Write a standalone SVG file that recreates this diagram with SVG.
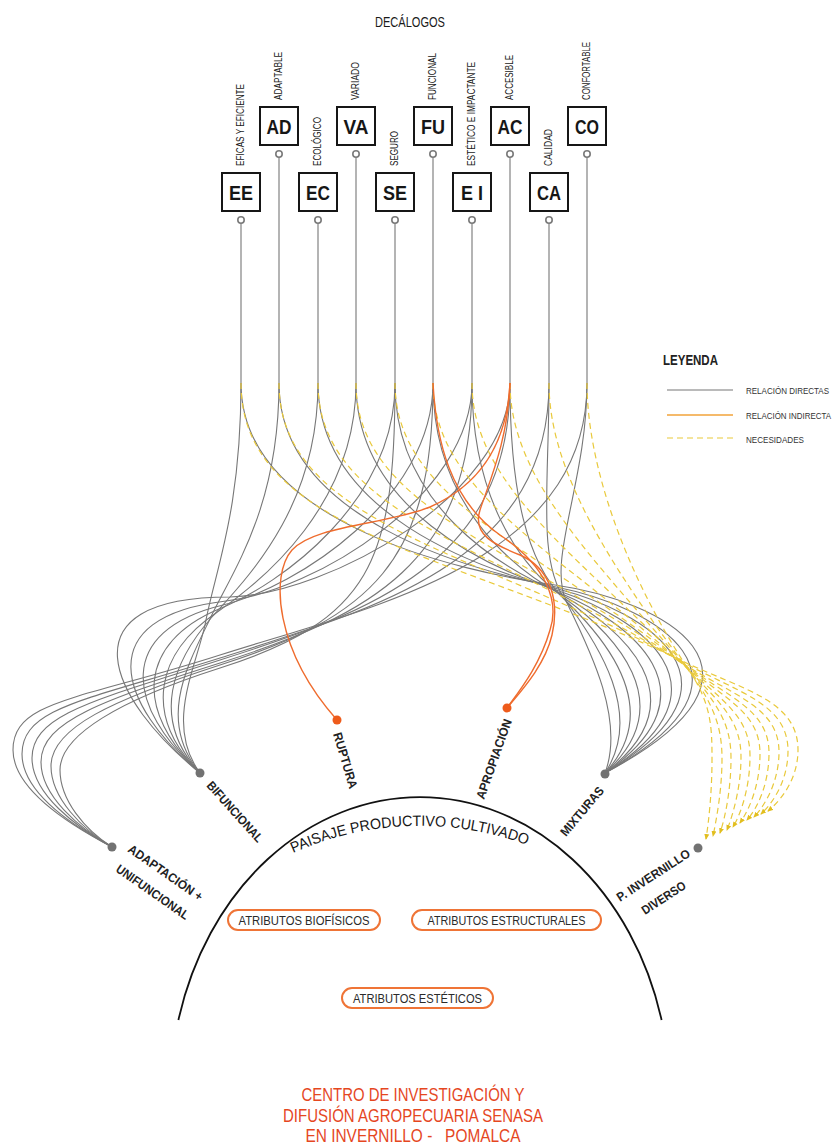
<svg xmlns="http://www.w3.org/2000/svg" width="839" height="1144" viewBox="0 0 839 1144">
<defs>
<style>
.c{fill:none;stroke:#777;stroke-width:1.1}
.y{fill:none;stroke:#E9C93B;stroke-width:1.2;stroke-dasharray:6 4}
.o{fill:none;stroke:#EF6C2E;stroke-width:1.4}
.bx{fill:#fff;stroke:#161616;stroke-width:2}
.ring{fill:#fff;stroke:#7a7a7a;stroke-width:1.6}
.dot{fill:#727272}
.odot{fill:#EE5B1B}
.f{font-family:"Liberation Sans",Arial,sans-serif}
.bl{font-size:21px;font-weight:bold;fill:#161616;text-anchor:middle}
.vl{font-size:10px;fill:#1a1a1a}
.lb{font-size:12.5px;font-weight:bold;fill:#222}
.pill{fill:#fff;stroke:#EF7436;stroke-width:2}
.pt{font-size:13px;fill:#2a2a2a;text-anchor:middle}
.ti{font-size:19px;fill:#E5471F;text-anchor:middle}
.lg{font-size:8.2px;fill:#333}
</style>
<marker id="ya" viewBox="0 0 6 6" refX="5" refY="3" markerWidth="6" markerHeight="6" orient="auto" markerUnits="userSpaceOnUse">
<path d="M0,0.5 L6,3 L0,5.5z" fill="#E2BE1E"/>
</marker>
</defs>
<rect width="839" height="1144" fill="#fff"/>

<text class="f" x="410" y="26.5" font-size="14" fill="#1a1a1a" text-anchor="middle" textLength="70" lengthAdjust="spacingAndGlyphs">DECÁLOGOS</text>

<g id="connectors">
<path class="c" d="M241,223V383M279,157V383M318,223V383M356,157V383M395,223V383M433,157V383M472,223V383M510,157V383M549,223V383M587,157V383"/>
<g id="to-mixturas">
<path class="c" d="M241,383 C241,523 461,572 555,585 C660,600 800,670 605,773"/>
<path class="c" d="M279,383 C279,519 470,570 556,587 C652,606 781,676 605,773"/>
<path class="c" d="M318,383 C318,514 480,569 558,589 C644,611 761,681 605,773"/>
<path class="c" d="M356,383 C356,510 489,568 559,591 C637,617 742,687 605,773"/>
<path class="c" d="M395,383 C395,505 499,567 560,593 C629,622 722,692 605,773"/>
<path class="c" d="M433,383 C433,501 508,566 562,595 C621,628 703,698 605,773"/>
<path class="c" d="M472,383 C472,496 518,564 563,597 C613,633 683,703 605,773"/>
<path class="c" d="M510,383 C510,492 527,563 564,599 C606,639 664,709 605,773"/>
<path class="c" d="M549,383 C549,487 537,562 566,601 C598,644 644,714 605,773"/>
<path class="c" d="M587,383 C587,483 546,561 567,603 C590,650 625,720 605,773"/>
</g>
<g id="to-bifuncional">
<path class="c" d="M241,383 C241,513 215,570 205,625 C195,670 165,725 200,773"/>
<path class="c" d="M279,383 C279,510 231,573 209,621 C187,666 157,721 200,773"/>
<path class="c" d="M318,383 C318,507 248,577 212,617 C174,660 149,718 200,773"/>
<path class="c" d="M356,383 C356,504 264,580 216,613 C158,652 141,714 200,773"/>
<path class="c" d="M395,383 C395,502 281,584 219,609 C138,643 134,711 200,773"/>
<path class="c" d="M433,383 C433,499 297,587 223,605 C115,631 126,707 200,773"/>
<path class="c" d="M472,383 C472,496 314,591 226,601 C89,617 118,704 200,773"/>
<path class="c" d="M510,383 C510,493 330,594 230,597 C60,597 110,700 200,773"/>
</g>
<g id="to-adaptacion">
<path class="c" d="M395,383 C395,563 370,620 220,668 C120,700 60,735 60,770 C60,800 85,830 112,847"/>
<path class="c" d="M433,383 C433,563 370,617 220,665 C112,700 51,728 51,766 C51,798 82,829 112,847"/>
<path class="c" d="M472,383 C472,563 370,615 220,663 C104,700 41,721 41,762 C41,796 79,828 112,847"/>
<path class="c" d="M510,383 C510,563 370,612 220,660 C96,700 32,714 32,758 C32,794 76,827 112,847"/>
<path class="c" d="M549,383 C549,563 370,610 220,658 C88,700 22,707 22,754 C22,792 73,826 112,847"/>
<path class="c" d="M587,383 C587,563 370,607 220,655 C80,700 13,700 13,750 C13,790 70,825 112,847"/>
</g>
<g id="to-invernillo">
<path class="y" marker-end="url(#ya)" d="M241,383 C241,533 455,552 680,660 C743,690 798,700 798,750 C798,775 785,797 768,811"/>
<path class="y" marker-end="url(#ya)" d="M279,383 C279,525 478,550 681,661 C738,693 788,703 788,751 C788,777 776,800 761,814"/>
<path class="y" marker-end="url(#ya)" d="M318,383 C318,517 500,548 682,663 C734,696 779,707 779,752 C779,778 768,802 754,817"/>
<path class="y" marker-end="url(#ya)" d="M356,383 C356,510 521,548 683,664 C730,698 769,710 769,753 C769,780 760,805 747,820"/>
<path class="y" marker-end="url(#ya)" d="M395,383 C395,502 541,548 684,665 C727,700 760,713 760,754 C760,782 751,807 740,823"/>
<path class="y" marker-end="url(#ya)" d="M433,383 C433,494 560,551 686,667 C723,701 750,717 750,756 C750,783 743,810 733,827"/>
<path class="y" marker-end="url(#ya)" d="M472,383 C472,486 578,554 687,668 C720,703 741,720 741,757 C741,785 734,812 727,830"/>
<path class="y" marker-end="url(#ya)" d="M510,383 C510,479 594,559 688,669 C717,704 731,723 731,758 C731,787 726,815 720,833"/>
<path class="y" marker-end="url(#ya)" d="M549,383 C549,471 610,565 689,671 C714,705 722,727 722,759 C722,788 717,817 713,836"/>
<path class="y" marker-end="url(#ya)" d="M587,383 C587,463 624,572 690,672 C712,705 712,730 712,760 C712,790 709,820 706,839"/>
</g>
<g id="to-ruptura">
<path class="o" d="M510,383 C507,445 480,485 430,507 C385,525 315,525 292,550 C270,575 275,650 337,720"/>
</g>
<g id="to-apropiacion">
<path class="o" d="M433,383 C436,440 450,500 500,535 C545,565 560,600 550,630 C540,665 520,690 507,708"/>
<path class="o" d="M510,383 C508,440 490,480 480,510 C472,535 495,545 520,555 C550,568 560,600 552,635 C545,665 522,690 507,708"/>
</g>
</g>

<g id="node-EE"><rect class="bx" x="222" y="173" width="38" height="38"/><text class="f bl" x="241" y="199.5" textLength="24" lengthAdjust="spacingAndGlyphs">EE</text><circle class="ring" cx="241" cy="220" r="3.2"/><text class="f vl" transform="translate(244,166) rotate(-90)" textLength="82" lengthAdjust="spacingAndGlyphs">EFICAS Y EFICIENTE</text></g>
<g id="node-AD"><rect class="bx" x="260" y="107" width="38" height="38"/><text class="f bl" x="279" y="133.5" textLength="25" lengthAdjust="spacingAndGlyphs">AD</text><circle class="ring" cx="279" cy="154" r="3.2"/><text class="f vl" transform="translate(282,100) rotate(-90)" textLength="48" lengthAdjust="spacingAndGlyphs">ADAPTABLE</text></g>
<g id="node-EC"><rect class="bx" x="299" y="173" width="38" height="38"/><text class="f bl" x="318" y="199.5" textLength="24" lengthAdjust="spacingAndGlyphs">EC</text><circle class="ring" cx="318" cy="220" r="3.2"/><text class="f vl" transform="translate(321,166) rotate(-90)" textLength="49" lengthAdjust="spacingAndGlyphs">ECOLÓGICO</text></g>
<g id="node-VA"><rect class="bx" x="337" y="107" width="38" height="38"/><text class="f bl" x="356" y="133.5" textLength="25" lengthAdjust="spacingAndGlyphs">VA</text><circle class="ring" cx="356" cy="154" r="3.2"/><text class="f vl" transform="translate(359,100) rotate(-90)" textLength="38" lengthAdjust="spacingAndGlyphs">VARIADO</text></g>
<g id="node-SE"><rect class="bx" x="376" y="173" width="38" height="38"/><text class="f bl" x="395" y="199.5" textLength="24" lengthAdjust="spacingAndGlyphs">SE</text><circle class="ring" cx="395" cy="220" r="3.2"/><text class="f vl" transform="translate(398,166) rotate(-90)" textLength="35" lengthAdjust="spacingAndGlyphs">SEGURO</text></g>
<g id="node-FU"><rect class="bx" x="414" y="107" width="38" height="38"/><text class="f bl" x="433" y="133.5" textLength="24" lengthAdjust="spacingAndGlyphs">FU</text><circle class="ring" cx="433" cy="154" r="3.2"/><text class="f vl" transform="translate(436,100) rotate(-90)" textLength="47" lengthAdjust="spacingAndGlyphs">FUNCIONAL</text></g>
<g id="node-EI"><rect class="bx" x="453" y="173" width="38" height="38"/><text class="f bl" x="472" y="199.5" textLength="22" lengthAdjust="spacingAndGlyphs">E I</text><circle class="ring" cx="472" cy="220" r="3.2"/><text class="f vl" transform="translate(475,166) rotate(-90)" textLength="104" lengthAdjust="spacingAndGlyphs">ESTÉTICO E IMPACTANTE</text></g>
<g id="node-AC"><rect class="bx" x="491" y="107" width="38" height="38"/><text class="f bl" x="510" y="133.5" textLength="25" lengthAdjust="spacingAndGlyphs">AC</text><circle class="ring" cx="510" cy="154" r="3.2"/><text class="f vl" transform="translate(513,100) rotate(-90)" textLength="45" lengthAdjust="spacingAndGlyphs">ACCESIBLE</text></g>
<g id="node-CA"><rect class="bx" x="530" y="173" width="38" height="38"/><text class="f bl" x="549" y="199.5" textLength="24" lengthAdjust="spacingAndGlyphs">CA</text><circle class="ring" cx="549" cy="220" r="3.2"/><text class="f vl" transform="translate(552,166) rotate(-90)" textLength="37" lengthAdjust="spacingAndGlyphs">CALIDAD</text></g>
<g id="node-CO"><rect class="bx" x="568" y="107" width="38" height="38"/><text class="f bl" x="587" y="133.5" textLength="24" lengthAdjust="spacingAndGlyphs">CO</text><circle class="ring" cx="587" cy="154" r="3.2"/><text class="f vl" transform="translate(590,100) rotate(-90)" textLength="58" lengthAdjust="spacingAndGlyphs">CONFORTABLE</text></g>

<g id="legend">
<text class="f" x="663" y="365" font-size="14" font-weight="bold" fill="#222" textLength="55" lengthAdjust="spacingAndGlyphs">LEYENDA</text>
<line class="c" x1="667" y1="390" x2="733" y2="390"/>
<line x1="667" y1="415" x2="733" y2="415" stroke="#F2A33A" stroke-width="1.4"/>
<line class="y" x1="667" y1="438" x2="733" y2="438" stroke-dasharray="5 4"/>
<text class="f lg" x="746" y="394" textLength="83" lengthAdjust="spacingAndGlyphs">RELACIÓN DIRECTAS</text>
<text class="f lg" x="746" y="419" textLength="85" lengthAdjust="spacingAndGlyphs">RELACIÓN INDIRECTA</text>
<text class="f lg" x="746" y="443" textLength="58" lengthAdjust="spacingAndGlyphs">NECESIDADES</text>
</g>

<g id="node-paisaje">
<path d="M178.4,1020 A250,300 0 0 1 661.6,1020" fill="none" stroke="#111" stroke-width="1.8"/>
<path id="tp" d="M293,853 A310,310 0 0 1 570,864.7" fill="none"/>
<text class="f" font-size="15" fill="#161616"><textPath href="#tp" textLength="240" lengthAdjust="spacingAndGlyphs">PAISAJE PRODUCTIVO CULTIVADO</textPath></text>
</g>
<g id="node-biofisicos"><rect class="pill" x="228" y="910" width="152" height="20" rx="10"/><text class="f pt" x="304" y="925" textLength="131" lengthAdjust="spacingAndGlyphs">ATRIBUTOS BIOFÍSICOS</text></g>
<g id="node-estructurales"><rect class="pill" x="412" y="910" width="189" height="20" rx="10"/><text class="f pt" x="506.5" y="925" textLength="158" lengthAdjust="spacingAndGlyphs">ATRIBUTOS ESTRUCTURALES</text></g>
<g id="node-esteticos"><rect class="pill" x="342" y="988" width="151" height="20" rx="10"/><text class="f pt" x="417.5" y="1003" textLength="129" lengthAdjust="spacingAndGlyphs">ATRIBUTOS ESTÉTICOS</text></g>

<g id="node-adaptacion"><circle class="dot" cx="112" cy="847" r="4.5"/>
<text class="f lb" transform="translate(127,851) rotate(35)" textLength="88" lengthAdjust="spacingAndGlyphs">ADAPTACIÓN +</text>
<text class="f lb" transform="translate(115,871) rotate(35)" textLength="86" lengthAdjust="spacingAndGlyphs">UNIFUNCIONAL</text></g>
<g id="node-bifuncional"><circle class="dot" cx="200" cy="773" r="4.5"/>
<text class="f lb" transform="translate(206,786) rotate(48)" textLength="77" lengthAdjust="spacingAndGlyphs">BIFUNCIONAL</text></g>
<g id="node-ruptura"><circle class="odot" cx="337" cy="720" r="4.5"/>
<text class="f lb" transform="translate(333,734) rotate(73.4)" textLength="58" lengthAdjust="spacingAndGlyphs">RUPTURA</text></g>
<g id="node-apropiacion"><circle class="odot" cx="507" cy="708" r="4.5"/>
<text class="f lb" transform="translate(484,800) rotate(-70.5)" textLength="84" lengthAdjust="spacingAndGlyphs">APROPIACIÓN</text></g>
<g id="node-mixturas"><circle class="dot" cx="605" cy="774" r="4.5"/>
<text class="f lb" transform="translate(566,837) rotate(-50)" textLength="60" lengthAdjust="spacingAndGlyphs">MIXTURAS</text></g>
<g id="node-invernillo"><circle class="dot" cx="698" cy="848" r="4.5"/>
<text class="f lb" transform="translate(620,902) rotate(-33)" textLength="85" lengthAdjust="spacingAndGlyphs">P. INVERNILLO</text>
<text class="f lb" transform="translate(645,915) rotate(-33)" textLength="50" lengthAdjust="spacingAndGlyphs">DIVERSO</text></g>

<g id="title">
<text class="f ti" x="413" y="1101" textLength="223" lengthAdjust="spacingAndGlyphs">CENTRO DE INVESTIGACIÓN Y</text>
<text class="f ti" x="413" y="1122" textLength="260" lengthAdjust="spacingAndGlyphs">DIFUSIÓN AGROPECUARIA SENASA</text>
<text class="f ti" x="413" y="1142" textLength="215" lengthAdjust="spacingAndGlyphs" xml:space="preserve">EN INVERNILLO -   POMALCA</text>
</g>
</svg>
